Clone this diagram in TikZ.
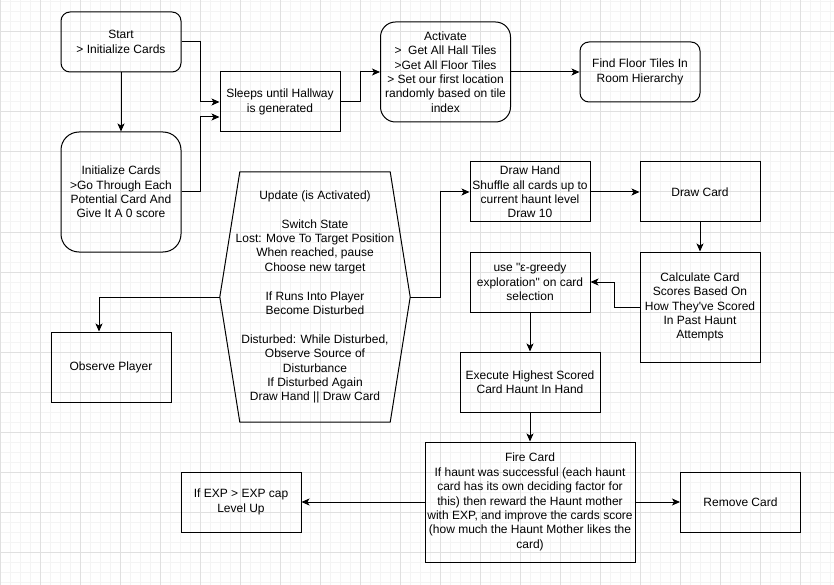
\documentclass[tikz,border=0pt]{standalone}
\usepackage{fontspec}
\setmainfont{Liberation Sans}[Ligatures=TeXOff]
\usetikzlibrary{arrows.meta}
\definecolor{gridmajor}{RGB}{224,224,224}
\definecolor{gridminor}{RGB}{244,244,244}
\begin{document}
\begin{tikzpicture}[x=1pt,y=-1pt,
  txt/.style={align=center, font=\fontsize{12}{14.4}\selectfont, inner sep=0pt},
  box/.style={txt, draw, line width=1pt},
  arr/.style={line width=1pt, -{Stealth[length=8pt,width=7pt,inset=2pt]}},
  conn/.style={line width=1pt}
]
\useasboundingbox (0,0) rectangle (834,585);
\fill[white] (0,0) rectangle (834,585);
% grid
\foreach \x in {0,10,...,830} \draw[gridminor, line width=1pt] (\x,0) -- (\x,585);
\foreach \y in {2,12,...,582} \draw[gridminor, line width=1pt] (0,\y) -- (834,\y);
\foreach \x in {0,40,...,800} \draw[gridmajor, line width=1pt] (\x,0) -- (\x,585);
\foreach \y in {32,72,...,572} \draw[gridmajor, line width=1pt] (0,\y) -- (834,\y);

% nodes
\node[box, rounded corners=9pt, minimum width=120pt, minimum height=60pt] (start) at (121,42) {Start\\> Initialize Cards};
\node[box, rounded corners=18pt, minimum width=120pt, minimum height=120pt] (init) at (121,192) {Initialize Cards\\>Go Through Each\\Potential Card And\\Give It A 0 score};
\node[box, minimum width=120pt, minimum height=60pt] (sleep) at (280,102) {Sleeps until Hallway\\is generated};
\node[box, rounded corners=15pt, minimum width=130pt, minimum height=100pt] (act) at (445.5,72) {Activate\\>\ \ Get All Hall Tiles\\>Get All Floor Tiles\\> Set our first location\\randomly based on tile\\index};
\node[box, rounded corners=9pt, minimum width=120pt, minimum height=60pt] (find) at (640,72) {Find Floor Tiles In\\Room Hierarchy};

\node[txt, minimum width=190pt, minimum height=250pt] (upd) at (315,297) {Update (is Activated)\\[14.4pt]Switch State\\Lost: Move To Target Position\\When reached, pause\\Choose new target\\[14.4pt]If Runs Into Player\\Become Disturbed\\[14.4pt]Disturbed: While Disturbed,\\Observe Source of\\Disturbance\\If Disturbed Again\\Draw Hand || Draw Card};
\draw[line width=1pt, line join=miter] (upd.west) -- ([xshift=20pt]upd.north west) -- ([xshift=-20pt]upd.north east) -- (upd.east) -- ([xshift=-20pt]upd.south east) -- ([xshift=20pt]upd.south west) -- cycle;

\node[box, minimum width=120pt, minimum height=70pt] (obs) at (111,367) {Observe Player};
\node[box, minimum width=120pt, minimum height=60pt] (hand) at (530,192) {Draw Hand\\Shuffle all cards up to\\current haunt level\\Draw 10};
\node[box, minimum width=120pt, minimum height=60pt] (card) at (700,192) {Draw Card};
\node[box, minimum width=120pt, minimum height=110pt] (calc) at (700,307) {Calculate Card\\Scores Based On\\How They've Scored\\In Past Haunt\\Attempts};
\node[box, minimum width=120pt, minimum height=60pt] (greedy) at (530,282) {use "ε-greedy\\exploration" on card\\selection};
\node[box, minimum width=140pt, minimum height=60pt] (exec) at (530,382) {Execute Highest Scored\\Card Haunt In Hand};
\node[box, minimum width=210pt, minimum height=120pt] (fire) at (530,502) {Fire Card\\If haunt was successful (each haunt\\card has its own deciding factor for\\this) then reward the Haunt mother\\with EXP, and improve the cards score\\(how much the Haunt Mother likes the\\card)};
\node[box, minimum width=120pt, minimum height=60pt] (exp) at (241,502) {If EXP > EXP cap\\Level Up};
\node[box, minimum width=120pt, minimum height=60pt] (remove) at (740.5,502) {Remove Card};

% connectors
\draw[arr] (start.south) -- (init.north);
\draw[arr] (start.east) -- ++(19,0) |- (sleep.west);
\draw[arr] (init.east) -- ++(19,0) |- ([yshift=-15pt]sleep.west);
\draw[arr] (sleep.east) -- ++(20,0) |- (act.west);
\draw[arr] (act.east) -- (find.west);
\draw[arr] (upd.east) -- ++(30,0) |- (hand.west);
\draw[arr] (upd.west) -| ([xshift=-12pt]obs.north);
\draw[arr] (hand.east) -- (card.west);
\draw[arr] (card.south) -- (calc.north);
\draw[arr] (calc.west) -- ++(-25,0) |- (greedy.east);
\draw[arr] (greedy.south) -- (exec.north);
\draw[arr] (exec.south) -- (fire.north);
\draw[arr] (fire.west) -- (exp.east);
\draw[arr] (fire.east) -- (remove.west);
\end{tikzpicture}
\end{document}
